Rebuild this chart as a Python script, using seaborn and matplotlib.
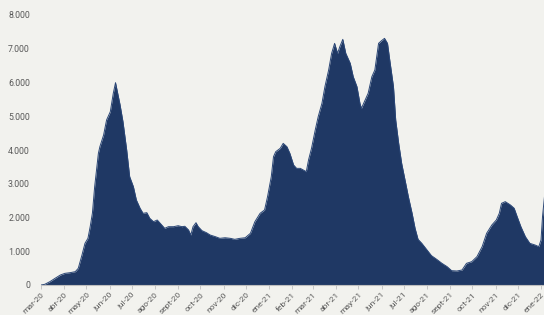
import matplotlib
matplotlib.use("Agg")
import matplotlib.pyplot as plt
import matplotlib.ticker as mticker
import seaborn as sns
import pandas as pd

# Data (days since 2020-03-01, value)
start_date = "2020-03-01"
days = [0, 5, 12, 19, 26, 32, 39, 46, 50, 55, 59, 63, 66, 69, 72, 77, 79, 84, 88, 93,
        97, 100, 106, 110, 115, 119, 124, 128, 133, 137, 142, 146, 151, 156, 162, 166,
        171, 178, 184, 189, 193, 198, 201, 204, 208, 211, 216, 222, 227, 234, 240, 247,
        254, 260, 267, 274, 281, 287, 294, 300, 304, 309, 312, 315, 321, 325, 330, 334,
        339, 343, 348, 352, 356, 359, 363, 368, 372, 377, 381, 386, 390, 394, 398, 401,
        405, 409, 415, 419, 424, 428, 430, 435, 439, 444, 448, 453, 457, 461, 465, 468,
        473, 476, 480, 484, 489, 493, 498, 502, 506, 511, 518, 524, 531, 538, 545, 551,
        558, 565, 571, 578, 585, 592, 598, 605, 611, 615, 618, 623, 630, 635, 639, 644,
        650, 656, 663, 668, 671, 673, 676]
values = [0, 20, 100, 200, 296, 345, 365, 395, 494, 890, 1235, 1383, 1728, 2133, 2913,
          3900, 4098, 4444, 4889, 5135, 5680, 5995, 5350, 4840, 4000, 3209, 2913, 2519,
          2272, 2124, 2143, 1975, 1876, 1926, 1778, 1679, 1728, 1728, 1757, 1728, 1740,
          1630, 1481, 1728, 1846, 1728, 1610, 1550, 1481, 1432, 1383, 1400, 1383, 1353,
          1383, 1400, 1531, 1876, 2124, 2223, 2617, 3209, 3802, 3950, 4049, 4197, 4098,
          3900, 3555, 3456, 3456, 3407, 3358, 3704, 4049, 4593, 4988, 5383, 5877, 6370,
          6864, 7160, 6864, 7061, 7279, 6864, 6568, 6173, 5877, 5383, 5235, 5481, 5680,
          6173, 6370, 7160, 7240, 7308, 7160, 6667, 5877, 4889, 4197, 3604, 3061, 2617,
          2124, 1679, 1353, 1235, 1037, 869, 760, 642, 543, 425, 415, 444, 642, 691, 839,
          1136, 1531, 1778, 1926, 2124, 2420, 2470, 2370, 2272, 2025, 1728, 1432, 1235,
          1185, 1136, 1334, 2025, 2700]
month_labels = ["mar-20", "abr-20", "may-20", "jun-20", "jul-20", "ago-20", "sept-20",
                "oct-20", "nov-20", "dic-20", "ene-21", "feb-21", "mar-21", "abr-21",
                "may-21", "jun-21", "jul-21", "ago-21", "sept-21", "oct-21", "nov-21",
                "dic-21", "ene-22"]
y_ticks = [0, 1000, 2000, 3000, 4000, 5000, 6000, 7000, 8000]

t0 = pd.Timestamp(start_date)
df = pd.DataFrame({"fecha": t0 + pd.to_timedelta(days, unit="D"), "valor": values})
month_dates = pd.date_range(t0, periods=len(month_labels), freq="MS")

bg = "#f2f2ee"
navy = "#1f3864"

sns.set_theme(style="white")
plt.rcParams["font.family"] = ["Roboto", "DejaVu Sans"]

fig = plt.figure(figsize=(5.44, 3.15), dpi=100, facecolor=bg)
ax = fig.add_axes([41 / 544, 30 / 315, 1 - 41 / 544, 270 / 315])
ax.set_facecolor(bg)

ax.fill_between(df["fecha"], 0, df["valor"], color=navy, linewidth=0)
sns.lineplot(data=df, x="fecha", y="valor", ax=ax, color="#2a4676", linewidth=0.7)

ax.set_xlim(t0, t0 + pd.Timedelta(days=675))
ax.set_ylim(0, 8000)
ax.set_yticks(y_ticks)
ax.yaxis.set_major_formatter(mticker.FuncFormatter(lambda v, p: f"{int(v):,}".replace(",", ".")))
ax.set_xticks(month_dates)
ax.set_xticklabels(month_labels, rotation=45, ha="right", rotation_mode="anchor")

ax.tick_params(axis="y", length=0, labelsize=6.3, labelcolor="#595959", pad=8)
ax.tick_params(axis="x", length=3, width=0.6, color="#bfbfbf", labelsize=6,
               labelcolor="#595959", pad=1.5, bottom=True)
ax.set_xlabel("")
ax.set_ylabel("")
for s in ["top", "right", "left"]:
    ax.spines[s].set_visible(False)
ax.spines["bottom"].set_color("#bfbfbf")
ax.spines["bottom"].set_linewidth(0.8)

fig.savefig("out.png", dpi=100, facecolor=bg)
